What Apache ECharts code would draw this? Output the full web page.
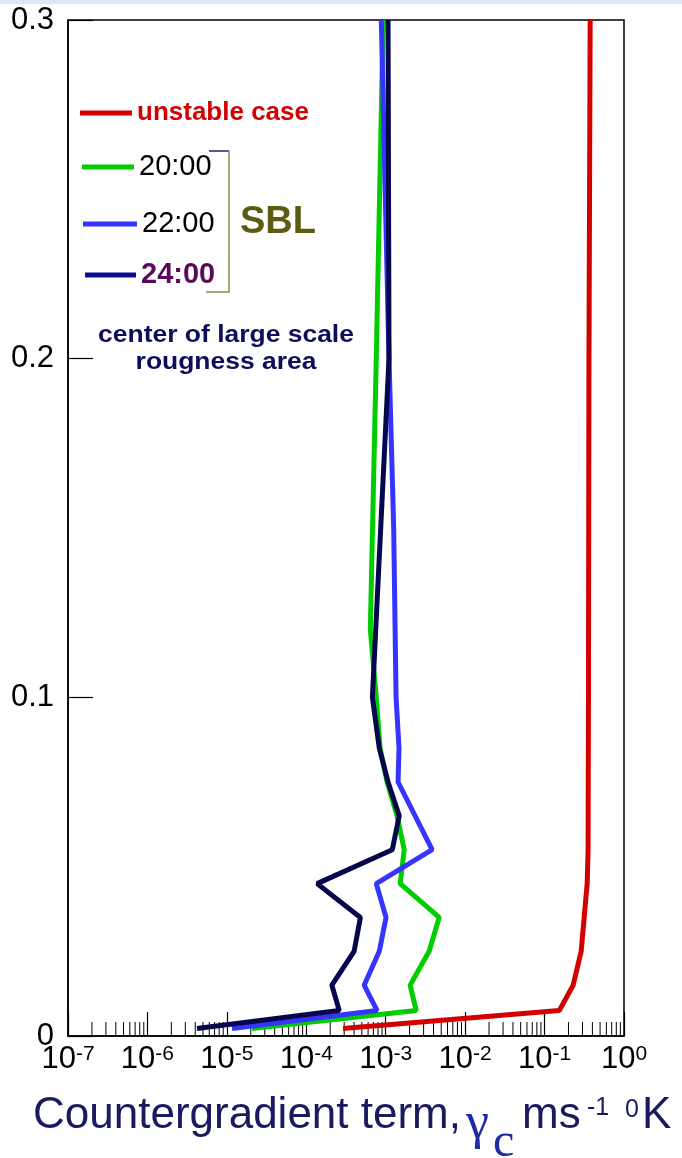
<!DOCTYPE html>
<html>
<head>
<meta charset="utf-8">
<script src="https://cdn.jsdelivr.net/npm/echarts@6/dist/echarts.min.js"></script>
<style>
  html, body { margin: 0; padding: 0; background: #fff; }
  #chart { width: 682px; height: 1158px; }
</style>
</head>
<body>
<div id="chart"></div>
<script>
// Height above ground, km
const zUnstable = [0.0022, 0.0075, 0.015, 0.025, 0.035, 0.045, 0.055, 0.1, 0.2, 0.3];
const z2000 = [0.0022, 0.0075, 0.015, 0.025, 0.035, 0.045, 0.055, 0.065, 0.075, 0.085, 0.1, 0.12, 0.2, 0.3];
const z2200 = [0.0022, 0.0075, 0.015, 0.025, 0.035, 0.045, 0.055, 0.075, 0.085, 0.1, 0.15, 0.2, 0.3];
const z2400 = [0.0022, 0.0075, 0.015, 0.025, 0.035, 0.045, 0.055, 0.065, 0.075, 0.085, 0.1, 0.2, 0.3];

// Countergradient term gamma_c, m s^-1 K
const gammaUnstable = [2.9e-4, 0.153, 0.229, 0.289, 0.315, 0.344, 0.353, 0.357, 0.362, 0.375];
const gamma2000 = [2.07e-5, 2.42e-3, 2.03e-3, 3.52e-3, 4.71e-3, 1.52e-3, 1.71e-3, 1.39e-3, 1.04e-3, 8.5e-4, 7.6e-4, 6.4e-4, 7.6e-4, 9.3e-4];
const gamma2200 = [1.16e-5, 7.8e-4, 5.35e-4, 8.3e-4, 1.01e-3, 7.6e-4, 3.84e-3, 1.43e-3, 1.47e-3, 1.35e-3, 1.26e-3, 1.10e-3, 8.8e-4];
const gamma2400 = [4.2e-6, 2.6e-4, 2.1e-4, 4.0e-4, 4.8e-4, 1.37e-4, 1.21e-3, 1.48e-3, 1.07e-3, 8.3e-4, 6.8e-4, 1.10e-3, 1.07e-3];

const seriesNames = ['unstable case', '20:00', '22:00', '24:00'];
const xTickPowers = [-7, -6, -5, -4, -3, -2, -1, 0];
const yTickLabels = ['0', '0.1', '0.2', '0.3'];
const minorMantissas = [2, 3, 4, 5, 6, 7, 8, 9];

const FONT = "'Liberation Sans', Arial, sans-serif";
const SERIF = "'Liberation Serif', 'Times New Roman', serif";
const TITLE_NAVY = '#1a1a60';
const GAMMA_BLUE = '#1f2aa8';

const pairs = (xs, zs) => xs.map((v, i) => [v, zs[i]]);

// minor log ticks: 2..9 x 10^p inside every decade
const minorTickValues = [];
xTickPowers.slice(0, -1).forEach(p => {
  minorMantissas.forEach(m => minorTickValues.push([m * Math.pow(10, p), 0]));
});

const chart = echarts.init(document.getElementById('chart'), null, { renderer: 'canvas' });

const lineSeries = (name, color, data, z) => ({
  type: 'line', name, data, z,
  symbol: 'none', showSymbol: false, color,
  lineStyle: { color, width: 5 }
});

const legendBase = {
  orient: 'vertical', padding: 0, itemWidth: 52, itemHeight: 5,
  icon: 'rect', selectedMode: false
};

// pieces of the x-axis title: text, left x, vertical centre, font, colour
const titleText = (text, x, y, font, fill) => ({
  type: 'text', x, y, silent: true,
  style: { text, font, fill, textAlign: 'left', textVerticalAlign: 'middle' }
});

chart.setOption({
  animation: false,
  backgroundColor: '#fff',
  grid: {
    left: 68, right: 58, top: 20, bottom: 122,
    containLabel: false, outerBoundsMode: 'none',
    show: true, borderColor: '#000', borderWidth: 1.5
  },
  xAxis: {
    type: 'log', logBase: 10, min: 1e-7, max: 1, interval: 1,
    axisLine: { lineStyle: { color: '#000', width: 1.5 } },
    axisTick: { inside: true, length: 24, lineStyle: { color: '#000', width: 1.2 } },
    splitLine: { show: false },
    axisLabel: {
      margin: 8,
      formatter: v => {
        const p = xTickPowers.find(e => Math.abs(Math.log10(v) - e) < 1e-6);
        return p === undefined ? '' : '{b|10}{s|' + p + '}';
      },
      rich: {
        b: { fontSize: 31, fontFamily: FONT, color: '#000', lineHeight: 36, verticalAlign: 'top' },
        s: { fontSize: 21, fontFamily: FONT, color: '#000', lineHeight: 19, verticalAlign: 'top' }
      }
    }
  },
  yAxis: {
    type: 'value', min: 0, max: 0.3, interval: 0.1,
    axisLine: { lineStyle: { color: '#000', width: 1.5 } },
    axisTick: { inside: true, length: 25, lineStyle: { color: '#000', width: 1.2 } },
    splitLine: { show: false },
    axisLabel: {
      margin: 14, fontSize: 31, fontFamily: FONT, color: '#000',
      formatter: v => yTickLabels[Math.round(v / 0.1)]
    },
    name: 'Z, km',
    nameLocation: 'middle',
    nameRotate: 90,
    nameGap: 17,
    nameTextStyle: { fontSize: 42, fontFamily: FONT, color: '#17176a' }
  },
  legend: [
    Object.assign({}, legendBase, {
      left: 80, top: 98,
      data: [{ name: seriesNames[0] }],
      textStyle: { fontSize: 26, fontWeight: 'bold', fontFamily: FONT, color: '#d40000', lineHeight: 30 }
    }),
    Object.assign({}, legendBase, {
      left: 82, top: 150,
      data: [{ name: seriesNames[1] }],
      textStyle: { fontSize: 29, fontFamily: FONT, color: '#000', lineHeight: 34 }
    }),
    Object.assign({}, legendBase, {
      left: 83, top: 207, itemWidth: 54,
      data: [{ name: seriesNames[2] }],
      textStyle: { fontSize: 29, fontFamily: FONT, color: '#000', lineHeight: 34 }
    }),
    Object.assign({}, legendBase, {
      left: 85, top: 258, itemWidth: 51,
      data: [{ name: seriesNames[3], itemStyle: { color: '#0d0d8f' } }],
      textStyle: { fontSize: 29, fontWeight: 'bold', fontFamily: FONT, color: '#5a0a5a', lineHeight: 34 }
    })
  ],
  graphic: [
    { type: 'rect', shape: { x: 0, y: 0, width: 682, height: 4 }, style: { fill: '#dce8f5' }, silent: true },
    // bracket grouping the stable boundary-layer profiles
    { type: 'line', shape: { x1: 209, y1: 151, x2: 229, y2: 151 }, style: { stroke: '#22226a', lineWidth: 1.5 }, silent: true },
    { type: 'polyline', shape: { points: [[229, 151], [229, 292], [206, 292]] }, style: { stroke: '#8a8a55', fill: null, lineWidth: 1.5 }, silent: true },
    {
      type: 'text', x: 240, y: 223, silent: true,
      style: { text: 'SBL', font: 'bold 38px ' + FONT, fill: '#5c5c10', textAlign: 'left', textVerticalAlign: 'middle' }
    },
    {
      type: 'text', x: 226, y: 336, scaleX: 1.15, silent: true,
      style: { text: 'center of large scale', font: 'bold 23px ' + FONT, fill: '#0d0d5c', textAlign: 'center', textVerticalAlign: 'middle' }
    },
    {
      type: 'text', x: 226, y: 363, scaleX: 1.15, silent: true,
      style: { text: 'rougness area', font: 'bold 23px ' + FONT, fill: '#0d0d5c', textAlign: 'center', textVerticalAlign: 'middle' }
    },
    // x-axis title: Countergradient term, gamma_c  m s^-1  ^0K
    titleText('Countergradient term,', 33, 1116, '44px ' + FONT, TITLE_NAVY),
    titleText('γ', 466, 1124, '52px ' + SERIF, GAMMA_BLUE),
    titleText('c', 493, 1143, '48px ' + SERIF, GAMMA_BLUE),
    titleText('ms', 522, 1116, '44px ' + FONT, TITLE_NAVY),
    titleText('-1', 587, 1108, '25px ' + FONT, TITLE_NAVY),
    titleText('0', 625, 1110, '25px ' + FONT, TITLE_NAVY),
    titleText('K', 642, 1116, '44px ' + FONT, TITLE_NAVY)
  ],
  series: [
    {
      type: 'custom', name: 'minor ticks', silent: true, z: 1,
      coordinateSystem: 'cartesian2d',
      data: minorTickValues,
      renderItem: (params, api) => {
        const p = api.coord([api.value(0), api.value(1)]);
        return { type: 'line', shape: { x1: p[0], y1: p[1], x2: p[0], y2: p[1] - 14 }, style: { stroke: '#000', lineWidth: 1 } };
      }
    },
    lineSeries(seriesNames[0], '#d40000', pairs(gammaUnstable, zUnstable), 3),
    lineSeries(seriesNames[1], '#00cc00', pairs(gamma2000, z2000), 4),
    lineSeries(seriesNames[2], '#3535ff', pairs(gamma2200, z2200), 5),
    lineSeries(seriesNames[3], '#06064c', pairs(gamma2400, z2400), 6)
  ]
});
</script>
</body>
</html>
